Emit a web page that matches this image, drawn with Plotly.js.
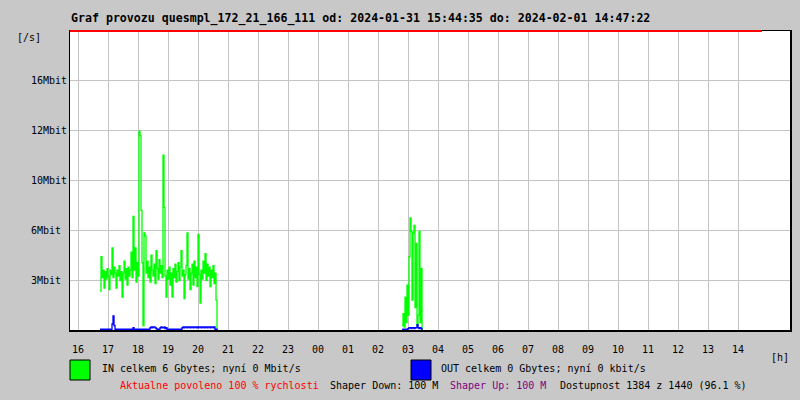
<!DOCTYPE html>
<html>
<head>
<meta charset="utf-8">
<script src="https://cdn.plot.ly/plotly-3.0.1.min.js"></script>
<style>html,body{margin:0;padding:0;background:#c8c8c8;}#chart{width:800px;height:400px;}</style>
</head>
<body>
<div id="chart"></div>
<script>
// ---- data ----
const titleText = "Graf provozu quesmpl_172_21_166_111 od: 2024-01-31 15:44:35 do: 2024-02-01 14:47:22";
const hourTicks = [16,17,18,19,20,21,22,23,24,25,26,27,28,29,30,31,32,33,34,35,36,37,38];
const hourLabels = ["16","17","18","19","20","21","22","23","00","01","02","03","04","05","06","07","08","09","10","11","12","13","14"];
const yTickVals = [3.333, 6.667, 10, 13.333, 16.667];
const yTickLabels = ["3Mbit","6Mbit","10Mbit","12Mbit","16Mbit"];
const xRange = [15.733, 39.733];          // 15:44 .. 15:44 next day
const limitEnd = 38.8;                      // red limit line end (~14:48)
const sampleStepMin = 2;

// evening block starting 16:44 (2-minute samples), Mbit/s
const eveningStart = 16 + 44/60;
const inEvening = [
 2.6,4.9,3.5,4.0,2.8,3.9,3.4,4.1,3.6,2.7,4.0,3.7,5.5,3.5,4.2,3.8,2.8,4.0,3.6,4.3,
 3.3,3.9,2.2,3.8,4.6,3.4,4.1,3.0,4.2,3.6,4.0,5.2,3.5,7.6,4.0,5.5,3.2,4.5,3.6,13.3,
 13.0,8.0,4.5,0.3,6.5,6.3,3.8,4.6,3.5,4.2,3.2,5.0,4.0,3.6,4.4,3.1,5.3,4.1,3.4,4.7,
 3.8,4.3,3.5,11.7,8.2,3.6,2.2,4.0,3.4,4.2,3.0,3.8,2.2,4.1,3.5,4.4,3.2,3.9,4.5,3.3,
 4.2,5.3,3.6,4.0,2.1,3.7,4.3,6.5,3.4,4.1,2.7,3.8,4.4,3.0,4.6,3.5,4.2,2.9,6.4,3.7,
 1.8,4.0,3.4,4.6,3.8,5.1,3.3,4.4,3.6,4.2,2.9,4.0,3.5,4.3,3.1,3.8,2.0,0
];
const outEvening = [
 0.05,0.05,0.05,0.05,0.05,0.05,0.05,0.05,0.05,0.05,0.05,0.05,0.4,0.95,0.3,0.05,0.05,0.05,0.05,0.05,
 0.05,0.05,0.05,0.05,0.05,0.05,0.05,0.05,0.05,0.05,0.05,0.05,0.05,0.15,0.05,0.05,0.05,0.05,0.05,0.05,
 0.05,0.05,0.05,0.05,0.05,0.05,0.05,0.05,0.05,0.05,0.15,0.2,0.15,0.2,0.2,0.15,0.1,0.05,0.05,0.05,
 0.15,0.2,0.15,0.15,0.2,0.1,0.15,0.05,0.05,0.05,0.05,0.05,0.05,0.05,0.05,0.05,0.05,0.05,0.05,0.05,
 0.05,0.05,0.15,0.2,0.15,0.2,0.2,0.15,0.2,0.2,0.15,0.2,0.2,0.15,0.2,0.2,0.15,0.2,0.15,0.2,
 0.2,0.15,0.2,0.2,0.15,0.2,0.2,0.15,0.2,0.2,0.15,0.2,0.2,0.15,0.2,0.05,0.05,0
];
// night block starting 02:48
const nightStart = 26 + 48/60;
const inNight = [0.3,1.1,0.2,2.2,0.5,3.0,1.0,4.9,7.5,6.6,2.0,6.5,7.0,1.5,5.8,0.3,1.0,6.6,0.5,4.1,0];
const outNight = [0.02,0.05,0.02,0.05,0.02,0.05,0.1,0.15,0.15,0.1,0.15,0.15,0.1,0.15,0.15,0.35,0.15,0.1,0.15,0.1,0];

// ---- build ----
function times(start, n){ const t=[]; for(let i=0;i<n;i++) t.push(start + i*sampleStepMin/60); return t; }
const inX = times(eveningStart, inEvening.length).concat([null], times(nightStart, inNight.length));
const inY = inEvening.concat([null], inNight);
const outX = times(eveningStart, outEvening.length).concat([null], times(nightStart, outNight.length));
const outY = outEvening.concat([null], outNight);

const pxX = px => (px-70)/720;
const pxY = py => (330-py)/299;
const FONT = "DejaVu Sans Mono";

const traces = [
  {x: inX, y: inY, type:'scatter', mode:'lines', line:{color:'#00ff00', width:1.3, shape:'hv'}, connectgaps:false, hoverinfo:'skip'},
  {x: outX, y: outY, type:'scatter', mode:'lines', line:{color:'#0000ff', width:1.3, shape:'hv'}, connectgaps:false, hoverinfo:'skip'}
];

const ann = [];
function txt(text, px, py, color, size, bold, anchor){
  ann.push({text: bold? '<b>'+text+'</b>' : text, xref:'paper', yref:'paper', x:pxX(px), y:pxY(py),
    xanchor: anchor||'left', yanchor:'middle', showarrow:false,
    font:{family:FONT, size:size||10, color:color||'#000'}});
}
txt(titleText, 69, 18, '#000', 11.6, true);
txt('[/s]', 15, 37);
txt('[h]', 769, 357);
yTickLabels.forEach((l,i)=>{
  ann.push({text:l, xref:'paper', yref:'y', x:pxX(29), y:yTickVals[i], xanchor:'left', yanchor:'middle',
    showarrow:false, font:{family:FONT, size:10, color:'#000'}});
});
txt('IN celkem 6 Gbytes; nyní 0 Mbit/s', 100, 368);
txt('OUT celkem 0 Gbytes; nyní 0 kbit/s', 439, 368);
txt('Aktualne povoleno 100 % rychlosti', 118, 386, '#ff0000');
txt('Shaper Down: 100 M', 328, 386);
txt('Shaper Up: 100 M', 448, 386, '#800080');
txt('Dostupnost 1384 z 1440 (96.1 %)', 558, 386);

const shapes = [
  {type:'line', xref:'x', yref:'paper', x0:xRange[0], x1:limitEnd, y0:1, y1:1, line:{color:'#ff0000', width:2}, layer:'above'},
  {type:'rect', xref:'paper', yref:'paper', x0:pxX(70), x1:pxX(90), y0:pxY(380), y1:pxY(360), fillcolor:'#00ff00', line:{color:'#000', width:1}},
  {type:'rect', xref:'paper', yref:'paper', x0:pxX(411), x1:pxX(431), y0:pxY(380), y1:pxY(360), fillcolor:'#0000ff', line:{color:'#000', width:1}}
];

const layout = {
  width:800, height:400,
  margin:{l:70, r:10, t:31, b:70, pad:0},
  paper_bgcolor:'#c8c8c8', plot_bgcolor:'#ffffff',
  showlegend:false,
  xaxis:{range:xRange, tickvals:hourTicks, ticktext:hourLabels, showgrid:true, gridcolor:'#c4c4c4', gridwidth:1,
    zeroline:false, showline:true, mirror:true, linecolor:'#000', linewidth:1.5, ticks:'', ticklabelstandoff:9,
    tickfont:{family:FONT, size:10, color:'#000'}, fixedrange:true},
  yaxis:{range:[0,20], tickvals:yTickVals, showticklabels:false, showgrid:true, gridcolor:'#c4c4c4', gridwidth:1,
    zeroline:false, showline:true, mirror:true, linecolor:'#000', linewidth:1.5, ticks:'', fixedrange:true},
  annotations: ann,
  shapes: shapes
};
Plotly.newPlot('chart', traces, layout, {staticPlot:true, displayModeBar:false});
</script>
</body>
</html>
